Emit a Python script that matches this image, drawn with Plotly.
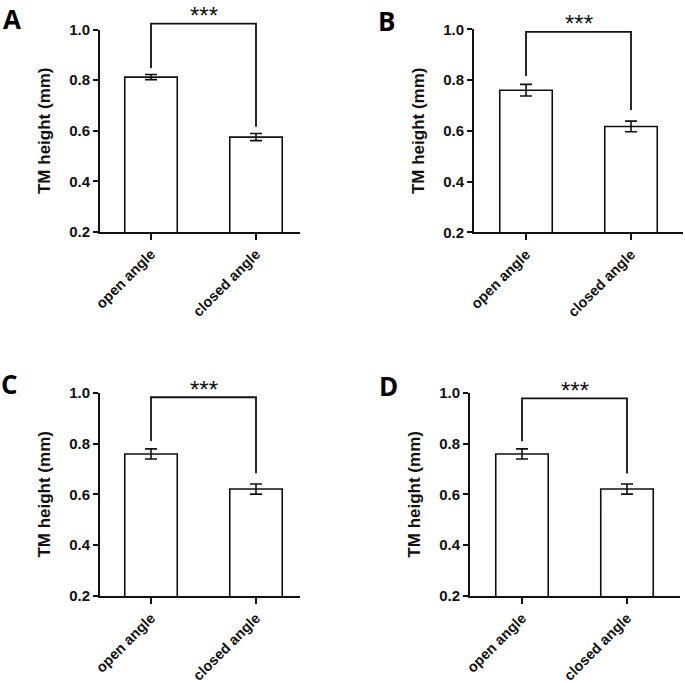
import plotly.graph_objects as go

W, H = 685, 683

categories = ["open angle", "closed angle"]
panel_labels = ["A", "B", "C", "D"]

means_A = [0.812, 0.575]
means_B = [0.760, 0.617]
means_C = [0.759, 0.621]
means_D = [0.759, 0.621]

errors_A = [0.010, 0.014]
errors_B = [0.023, 0.021]
errors_C = [0.020, 0.020]
errors_D = [0.020, 0.020]

# significance bracket: [left leg bottom, top, right leg bottom]
bracket_A = [0.848, 1.023, 0.616]
bracket_B = [0.816, 0.990, 0.682]
bracket_C = [0.810, 0.982, 0.683]
bracket_D = [0.809, 0.978, 0.682]
sig_text = "***"

y_ticks = [0.2, 0.4, 0.6, 0.8, 1.0]
y_range = [0.2, 1.0]

means = [means_A, means_B, means_C, means_D]
errors = [errors_A, errors_B, errors_C, errors_D]
brackets = [bracket_A, bracket_B, bracket_C, bracket_D]

# layout geometry in pixels: axis x start, x end, category-0 centre, category spacing, y top (1.0), y bottom (0.2)
geom = [
    dict(x0=100, x1=300, c0=151, sp=105, yt=29.5, yb=232),
    dict(x0=474, x1=683, c0=526, sp=105, yt=29.3, yb=232.3),
    dict(x0=100, x1=300, c0=151, sp=105, yt=392.7, yb=596),
    dict(x0=470, x1=680, c0=522, sp=105, yt=392.7, yb=596),
]
# panel letter: x centre, y top of text box (px)
label_pos = [(12, 0), (386.5, 2), (9.5, 365), (388.5, 367)]

BLACK = "#111111"
FONT = "Liberation Sans, Arial"
tick_font = dict(family=FONT, size=15, color=BLACK, weight="bold")
fig = go.Figure()
layout = dict(width=W, height=H, margin=dict(l=0, r=0, t=0, b=0, autoexpand=False),
              paper_bgcolor="white", plot_bgcolor="rgba(0,0,0,0)", showlegend=False)
annotations = []

for i in range(4):
    g = geom[i]
    n = i + 1
    xa = "x" if n == 1 else f"x{n}"
    ya = "y" if n == 1 else f"y{n}"
    yo_n = n + 4
    yo = f"y{yo_n}"
    xdom = [g["x0"] / W, g["x1"] / W]
    ydom = [1 - g["yb"] / H, 1 - g["yt"] / H]
    xr = [(g["x0"] - g["c0"]) / g["sp"], (g["x1"] - g["c0"]) / g["sp"]]
    ppu = (g["yb"] - g["yt"]) / (y_range[1] - y_range[0])
    ext = min(g["yt"] - 1, 40)
    ydom_o = [ydom[0], 1 - (g["yt"] - ext) / H]
    yr_o = [y_range[0], y_range[1] + ext / ppu]

    fig.add_trace(go.Bar(
        x=categories, y=means[i], xaxis=xa, yaxis=ya, width=0.5,
        marker=dict(color="white", line=dict(color=BLACK, width=1.6)),
        error_y=dict(type="data", array=errors[i], visible=True,
                     color=BLACK, thickness=1.6, width=6),
    ))
    b = brackets[i]
    fig.add_trace(go.Scatter(
        x=[categories[0], categories[0], categories[1], categories[1]],
        y=[b[0], b[1], b[1], b[2]], xaxis=xa, yaxis=yo, mode="lines",
        line=dict(color=BLACK, width=1.8), hoverinfo="skip",
    ))
    annotations.append(dict(
        x=0.5, y=b[1], xref=xa, yref=yo, text=sig_text, showarrow=False,
        xanchor="center", yanchor="middle", yshift=8,
        font=dict(family=FONT, size=24, color=BLACK),
    ))
    lx, ly = label_pos[i]
    annotations.append(dict(
        x=lx / W, y=1 - ly / H, xref="paper", yref="paper",
        text=panel_labels[i], showarrow=False, borderpad=0,
        xanchor="center", yanchor="top",
        font=dict(family="Open Sans", size=26, color="black", weight="bold"),
    ))

    xkey = "xaxis" if n == 1 else f"xaxis{n}"
    ykey = "yaxis" if n == 1 else f"yaxis{n}"
    layout[xkey] = dict(
        domain=xdom, anchor=ya, range=xr, type="category", automargin=False,
        showline=True, linecolor=BLACK, linewidth=2, showgrid=False, zeroline=False,
        ticks="outside", ticklen=6, tickwidth=1.6, tickcolor=BLACK,
        tickangle=-45, tickfont=dict(family=FONT, size=14.5, color=BLACK, weight="bold"),
        fixedrange=True,
    )
    layout[ykey] = dict(
        domain=ydom, anchor=xa, range=y_range, tickvals=y_ticks, automargin=False,
        tickformat=".1f", showline=True, linecolor=BLACK, linewidth=2,
        showgrid=False, zeroline=False, ticks="outside", ticklen=5, tickwidth=1.6,
        tickcolor=BLACK, tickfont=tick_font,
        title=dict(text="TM height (mm)", standoff=14,
                   font=dict(family=FONT, size=17, color=BLACK, weight="bold")),
    )
    layout[f"yaxis{yo_n}"] = dict(domain=ydom_o, anchor=xa, range=yr_o, visible=False,
                                  showgrid=False, zeroline=False, automargin=False)

layout["annotations"] = annotations
fig.update_layout(**layout)
fig.write_html("out.html", config={"displayModeBar": False},
               post_script="document.body.style.margin='0';document.body.style.overflow='hidden';")
